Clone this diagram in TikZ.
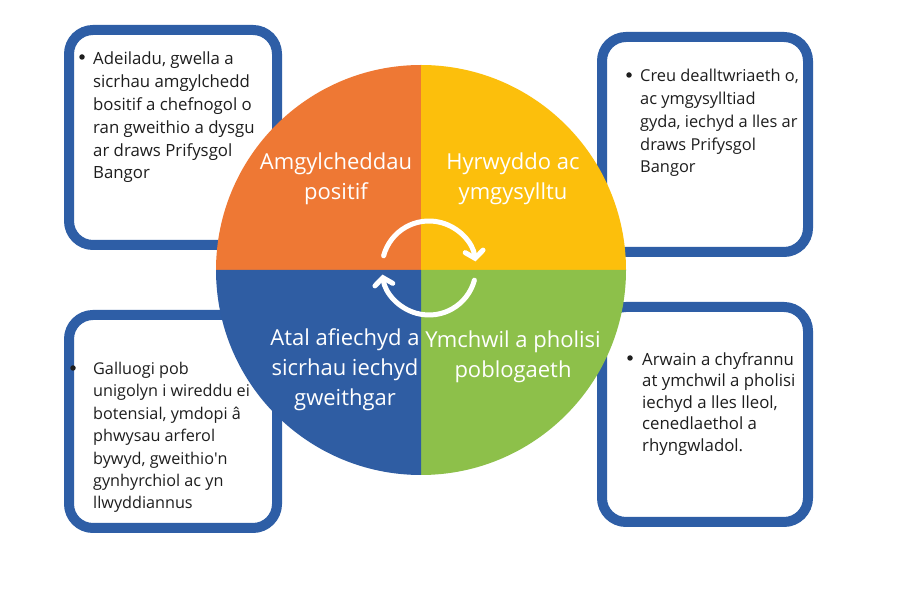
\documentclass[tikz,border=0pt]{standalone}
\usepackage{fontspec}
\setmainfont{Open Sans}
\usetikzlibrary{arrows.meta}
\definecolor{qorange}{HTML}{EE7834}
\definecolor{qyellow}{HTML}{FCBF0C}
\definecolor{qgreen}{HTML}{8DC04A}
\definecolor{qblue}{HTML}{2F5DA3}
\definecolor{boxblue}{HTML}{2E5EA6}
\definecolor{txt}{HTML}{1E1E1E}
\tikzset{
  infobox/.style={draw=boxblue, line width=10pt, fill=white, rounded corners=24pt},
  infotext/.style={anchor=north west, inner sep=0pt, align=left, font=\fontsize{16.8}{22.8}\selectfont, text=txt},
  bulletmark/.style={circle, fill=txt, inner sep=0pt, minimum size=5.5pt},
  quadlabel/.style={align=center, inner sep=0pt, text=white, font=\fontsize{22}{30}\selectfont},
  cyclearrow/.style={draw=white, line width=5pt, line cap=round, -{Straight Barb[length=7pt,width=18pt,line cap=round]}}
}
\begin{document}
\begin{tikzpicture}[x=1pt,y=1pt]
\useasboundingbox[fill=white] (0,0) rectangle (900,600);
% boxes
\draw[infobox] (69,570) rectangle (277,355);
\draw[infobox] (602,563) rectangle (808,348);
\draw[infobox] (69,285) rectangle (277,72);
\draw[infobox] (602,293) rectangle (808,78);
% box texts
\node[bulletmark] (b1) at (82,543) {};
\node[infotext] (t1) at (93,548) {Adeiladu, gwella a\\sicrhau amgylchedd\\bositif a chefnogol o\\ran gweithio a dysgu\\ar draws Prifysgol\\Bangor};
\node[bulletmark] (b2) at (629,525) {};
\node[infotext, font=\fontsize{16.4}{22.8}\selectfont] (t2) at (640,531) {Creu dealltwriaeth o,\\ac ymgysylltiad\\gyda, iechyd a lles ar\\draws Prifysgol\\Bangor};
\node[bulletmark] (b3) at (73,232) {};
\node[infotext, font=\fontsize{16.2}{22.4}\selectfont] (t3) at (93,238) {Galluogi pob\\unigolyn i wireddu ei\\botensial, ymdopi â\\phwysau arferol\\bywyd, gweithio\textquotesingle n\\gynhyrchiol ac yn\\llwyddiannus};
\node[bulletmark] (b4) at (630,242) {};
\node[infotext, font=\fontsize{16.8}{21.5}\selectfont] (t4) at (642,248) {Arwain a chyfrannu\\at ymchwil a pholisi\\iechyd a lles lleol,\\cenedlaethol a\\rhyngwladol.};
% circle quadrants
\coordinate (c) at (421,330);
\fill[qorange] (c) -- (216,330) arc[start angle=180,end angle=90,radius=205] -- cycle;
\fill[qyellow] (c) -- (421,535) arc[start angle=90,end angle=0,radius=205] -- cycle;
\fill[qgreen] (c) -- (626,330) arc[start angle=0,end angle=-90,radius=205] -- cycle;
\fill[qblue] (c) -- (421,125) arc[start angle=270,end angle=180,radius=205] -- cycle;
% labels
\node[quadlabel] (q1) at (336,421) {Amgylcheddau\\positif};
\node[quadlabel] (q2) at (513,421) {Hyrwyddo ac\\ymgysylltu};
\node[quadlabel] (q3) at (345,230) {Atal afiechyd a\\sicrhau iechyd\\gweithgar};
\node[quadlabel] (q4) at (513,243.5) {Ymchwil a pholisi\\poblogaeth};
% cycle arrows
\coordinate (ac) at (429,332);
\draw[cyclearrow] ([shift={(165:47)}]ac) arc[start angle=165,end angle=8,radius=47];
\draw[cyclearrow] ([shift={(-15:47)}]ac) arc[start angle=-15,end angle=-172,radius=47];
\end{tikzpicture}
\end{document}
